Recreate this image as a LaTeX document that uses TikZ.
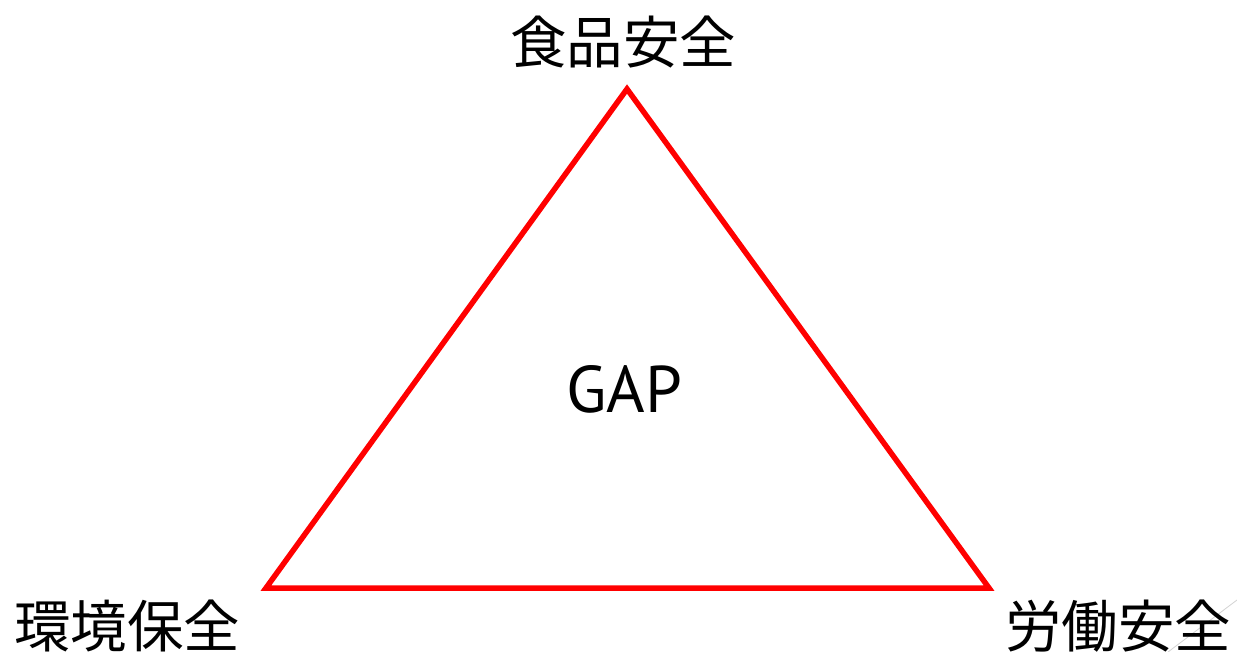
\documentclass[tikz,border=0pt]{standalone}
\usepackage{fontspec}
\newfontfamily\cjk{Noto Sans CJK JP}
\newfontfamily\latinf{PT Sans}
\begin{document}
\begin{tikzpicture}[x=1pt,y=-1pt,
  lbl/.style={font=\cjk\fontsize{56.5}{60}\selectfont, inner sep=0pt, anchor=center},
  tri/.style={draw=red, line width=5.5pt, line join=miter}]
\useasboundingbox (0,0) rectangle (1237,652);
\coordinate (t) at (627,89);
\coordinate (l) at (266,588);
\coordinate (r) at (989,588);
\coordinate (g1) at (1237,600);
\coordinate (g2) at (1168,652);
\draw[gray!35, line width=0.8pt] (g1) -- (g2);
\draw[tri] (t) -- (l) -- (r) -- cycle;
\node[lbl] (food) at (623,42) {食品安全};
\node[lbl] (env) at (127,626) {環境保全};
\node[lbl] (labor) at (1118,626) {労働安全};
\node[font=\latinf\fontsize{66}{70}\selectfont, inner sep=0pt] (gap) at (624,389) {GAP};
\end{tikzpicture}
\end{document}
